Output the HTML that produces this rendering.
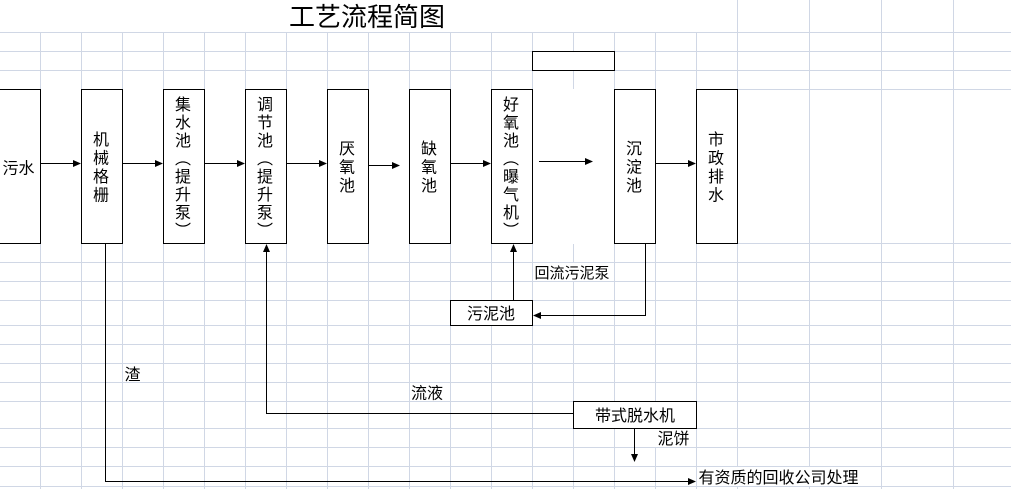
<!DOCTYPE html>
<html>
<head>
<meta charset="utf-8">
<style>
html,body{margin:0;padding:0;background:#fff;width:1011px;height:489px;overflow:hidden;}
svg{display:block;}
text{font-family:"Liberation Sans","Noto Sans CJK SC","WenQuanYi Zen Hei",sans-serif;fill:#000;}
</style>
</head>
<body>
<svg width="1011" height="489" viewBox="0 0 1011 489" xmlns="http://www.w3.org/2000/svg">
<rect x="0" y="0" width="1011" height="489" fill="#fff"/>
<!-- grid -->
<g stroke="#d0d7e5" stroke-width="1" shape-rendering="crispEdges">
  <line x1="0" y1="32.5" x2="1011" y2="32.5"/>
  <line x1="0" y1="51.5" x2="1011" y2="51.5"/>
  <line x1="0" y1="70.5" x2="1011" y2="70.5"/>
  <line x1="0" y1="89.5" x2="1011" y2="89.5"/>
  <line x1="0" y1="243.5" x2="1011" y2="243.5"/>
  <line x1="0" y1="262.5" x2="1011" y2="262.5"/>
  <line x1="0" y1="281.5" x2="1011" y2="281.5"/>
  <line x1="0" y1="300.5" x2="1011" y2="300.5"/>
  <line x1="0" y1="325.5" x2="1011" y2="325.5"/>
  <line x1="0" y1="344.5" x2="1011" y2="344.5"/>
  <line x1="0" y1="363.5" x2="1011" y2="363.5"/>
  <line x1="0" y1="382.5" x2="1011" y2="382.5"/>
  <line x1="0" y1="401.5" x2="1011" y2="401.5"/>
  <line x1="0" y1="428.5" x2="1011" y2="428.5"/>
  <line x1="0" y1="447.5" x2="1011" y2="447.5"/>
  <line x1="0" y1="466.5" x2="1011" y2="466.5"/>
  <line x1="0" y1="486.5" x2="1011" y2="486.5"/>

  <line x1="40.5" y1="32" x2="40.5" y2="489"/>
  <line x1="81.5" y1="32" x2="81.5" y2="489"/>
  <line x1="122.5" y1="32" x2="122.5" y2="489"/>
  <line x1="163.5" y1="32" x2="163.5" y2="489"/>
  <line x1="204.5" y1="32" x2="204.5" y2="489"/>
  <line x1="245.5" y1="32" x2="245.5" y2="489"/>
  <line x1="286.5" y1="32" x2="286.5" y2="489"/>
  <line x1="327.5" y1="32" x2="327.5" y2="489"/>
  <line x1="368.5" y1="32" x2="368.5" y2="489"/>
  <line x1="409.5" y1="32" x2="409.5" y2="489"/>
  <line x1="450.5" y1="32" x2="450.5" y2="489"/>
  <line x1="491.5" y1="32" x2="491.5" y2="489"/>
  <line x1="532.5" y1="32" x2="532.5" y2="489"/>
  <line x1="573.5" y1="32" x2="573.5" y2="489"/>
  <line x1="614.5" y1="32" x2="614.5" y2="489"/>
  <line x1="655.5" y1="32" x2="655.5" y2="489"/>
  <line x1="696.5" y1="32" x2="696.5" y2="489"/>
  <line x1="737.5" y1="0" x2="737.5" y2="489"/>
  <line x1="809.5" y1="0" x2="809.5" y2="489"/>
  <line x1="881.5" y1="0" x2="881.5" y2="489"/>
  <line x1="953.5" y1="0" x2="953.5" y2="489"/>
</g>

<!-- white covers -->
<g fill="#fff" shape-rendering="crispEdges">
  <rect x="0" y="89" width="737" height="155"/>
  <rect x="533" y="263" width="81" height="18"/>
  <rect x="650" y="429" width="46" height="18"/>
  <rect x="697" y="467" width="165" height="19"/>
</g>

<!-- boxes -->
<g fill="#fff" stroke="#000" stroke-width="1" shape-rendering="crispEdges">
  <rect x="-4.5" y="89.5" width="45" height="154"/>
  <rect x="81.5" y="89.5" width="41" height="154"/>
  <rect x="163.5" y="89.5" width="41" height="154"/>
  <rect x="245.5" y="89.5" width="41" height="154"/>
  <rect x="327.5" y="89.5" width="41" height="154"/>
  <rect x="409.5" y="89.5" width="41" height="154"/>
  <rect x="491.5" y="89.5" width="41" height="154"/>
  <rect x="614.5" y="89.5" width="41" height="154"/>
  <rect x="696.5" y="89.5" width="41" height="154"/>
  <rect x="532.5" y="51.5" width="82" height="19"/>
  <rect x="450.5" y="300.5" width="82" height="25"/>
  <rect x="573.5" y="401.5" width="123" height="27"/>
</g>

<!-- connector lines -->
<g stroke="#000" stroke-width="1" fill="none" shape-rendering="crispEdges">
  <line x1="41" y1="163.5" x2="75" y2="163.5"/>
  <line x1="123" y1="163.5" x2="157" y2="163.5"/>
  <line x1="205" y1="163.5" x2="239" y2="163.5"/>
  <line x1="287" y1="163.5" x2="321" y2="163.5"/>
  <line x1="369" y1="165.5" x2="394" y2="165.5"/>
  <line x1="451" y1="163.5" x2="485" y2="163.5"/>
  <line x1="539" y1="161.5" x2="587" y2="161.5"/>
  <line x1="656" y1="163.5" x2="690" y2="163.5"/>

  <polyline points="105.5,244 105.5,481.5 690,481.5"/>
  <polyline points="573,413.5 266.5,413.5 266.5,250"/>
  <line x1="513.5" y1="300" x2="513.5" y2="250"/>
  <polyline points="645.5,243 645.5,315.5 539,315.5"/>
  <line x1="634.5" y1="429" x2="634.5" y2="456"/>
</g>

<!-- arrowheads -->
<g fill="#000" stroke="none">
  <polygon points="81,163.5 73,160 73,167"/>
  <polygon points="163,163.5 155,160 155,167"/>
  <polygon points="245,163.5 237,160 237,167"/>
  <polygon points="327,163.5 319,160 319,167"/>
  <polygon points="400,165.5 392,162 392,169"/>
  <polygon points="491,163.5 483,160 483,167"/>
  <polygon points="593,161.5 585,158 585,165"/>
  <polygon points="696,163.5 688,160 688,167"/>
  <polygon points="696,481.5 688,478 688,485"/>
  <polygon points="266.5,244 263,252 270,252"/>
  <polygon points="513.5,244 510,252 517,252"/>
  <polygon points="533,315.5 541,312 541,319"/>
  <polygon points="634.5,462 631,454 638,454"/>
</g>

<!-- title -->
<text x="289" y="26" font-size="26">工艺流程简图</text>

<!-- box labels -->
<g font-size="16">
  <text x="2.5" y="173.5">污水</text>

  <g text-anchor="middle">
    <text x="101" y="145">机</text>
    <text x="101" y="163.5">械</text>
    <text x="101" y="182">格</text>
    <text x="101" y="200.5">栅</text>

    <text x="183" y="110">集</text>
    <text x="183" y="128">水</text>
    <text x="183" y="146">池</text>
    <text x="183" y="164">︵</text>
    <text x="183" y="182">提</text>
    <text x="183" y="200">升</text>
    <text x="183" y="218">泵</text>
    <text x="183" y="236">︶</text>

    <text x="265" y="110">调</text>
    <text x="265" y="128">节</text>
    <text x="265" y="146">池</text>
    <text x="265" y="164">︵</text>
    <text x="265" y="182">提</text>
    <text x="265" y="200">升</text>
    <text x="265" y="218">泵</text>
    <text x="265" y="236">︶</text>

    <text x="347" y="154">厌</text>
    <text x="347" y="172.5">氧</text>
    <text x="347" y="191">池</text>

    <text x="429" y="154">缺</text>
    <text x="429" y="172.5">氧</text>
    <text x="429" y="191">池</text>

    <text x="511" y="110">好</text>
    <text x="511" y="128">氧</text>
    <text x="511" y="146">池</text>
    <text x="511" y="164">︵</text>
    <text x="511" y="182">曝</text>
    <text x="511" y="200">气</text>
    <text x="511" y="218">机</text>
    <text x="511" y="236">︶</text>

    <text x="634" y="154">沉</text>
    <text x="634" y="172.5">淀</text>
    <text x="634" y="191">池</text>

    <text x="716" y="145">市</text>
    <text x="716" y="163.5">政</text>
    <text x="716" y="182">排</text>
    <text x="716" y="200.5">水</text>

    <text x="491" y="319">污泥池</text>
    <text x="635" y="421">带式脱水机</text>
  </g>

  <text x="124.5" y="380">渣</text>
  <text x="411" y="398.5">流液</text>
  <text x="657.5" y="444">泥饼</text>
  <text x="698.5" y="483">有资质的回收公司处理</text>
</g>
<text x="534.5" y="278" font-size="15">回流污泥泵</text>
</svg>
</body>
</html>
